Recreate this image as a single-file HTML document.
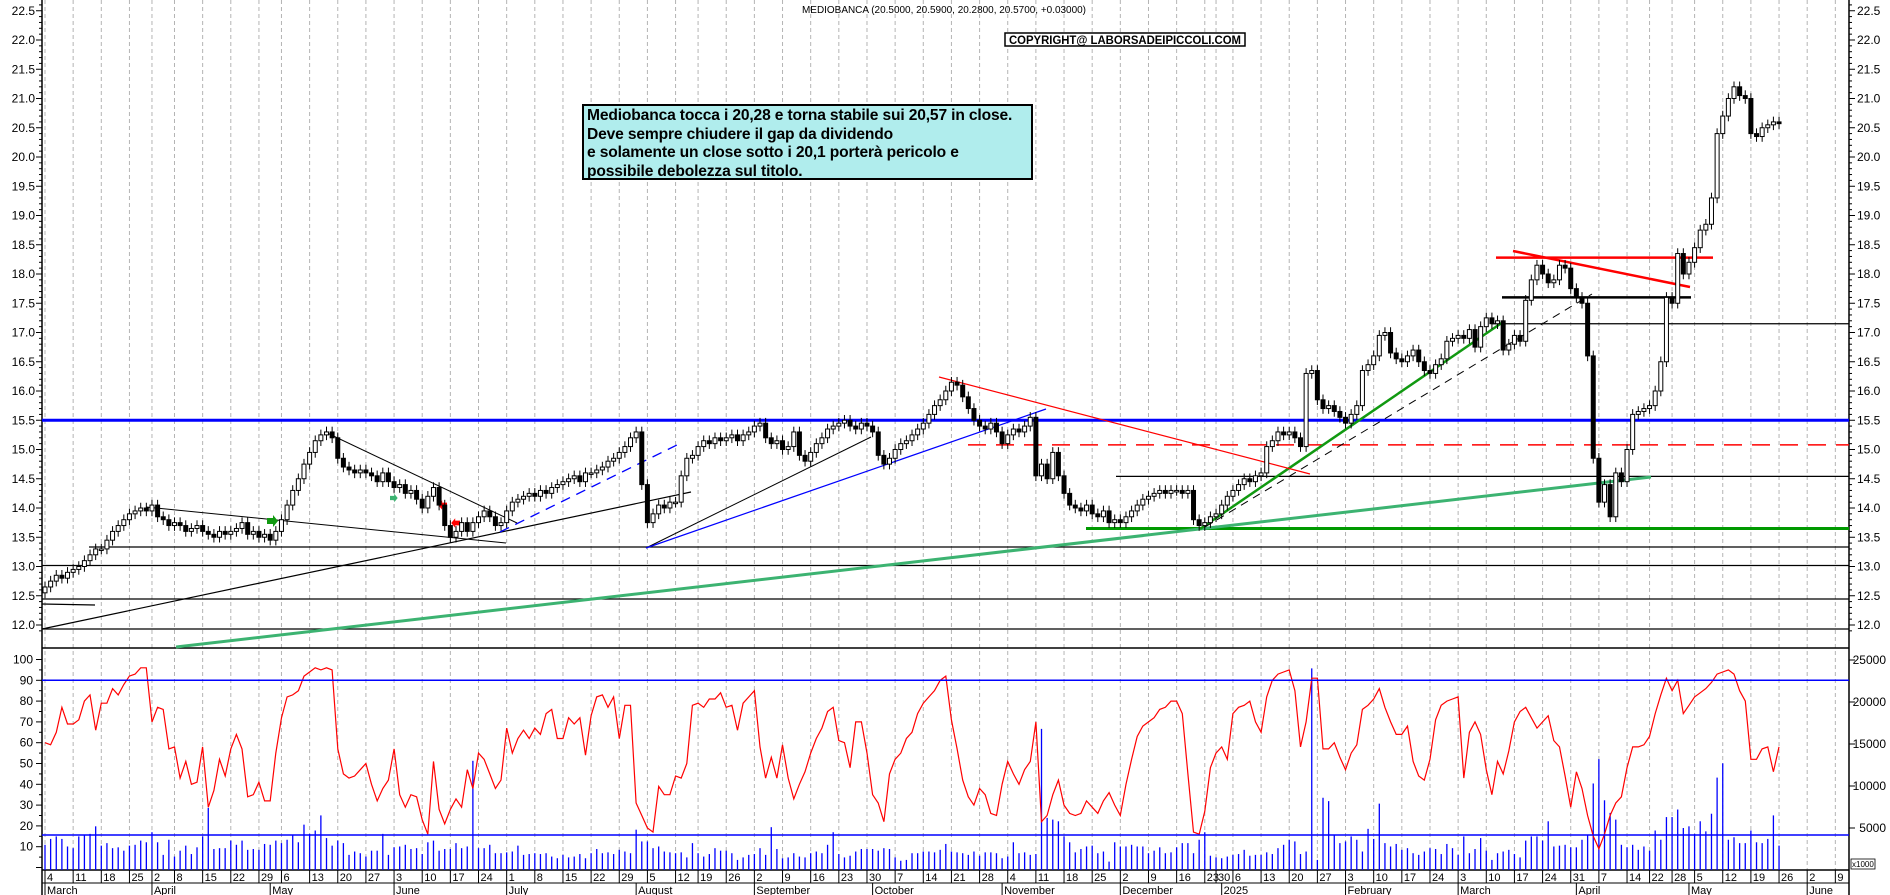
<!DOCTYPE html>
<html><head><meta charset="utf-8"><title>Mediobanca chart</title>
<style>
html,body{margin:0;padding:0;background:#fff;}
svg{display:block;font-family:"Liberation Sans",Arial,sans-serif;}
.note{position:absolute;left:582px;top:104px;width:444px;height:71px;background:#b0eded;border:2px solid #000;font:bold 15.6px "Liberation Sans",Arial,sans-serif;letter-spacing:-0.15px;line-height:18.5px;padding:1px 0 0 3px;box-sizing:content-box;white-space:nowrap;overflow:hidden;}
</style></head>
<body>
<div style="position:relative;width:1890px;height:895px;overflow:hidden;">
<svg id="chart" width="1890" height="895" viewBox="0 0 1890 895"></svg>
<div class="note">Mediobanca tocca i 20,28 e torna stabile sui 20,57 in close.<br>Deve sempre chiudere il gap da dividendo<br>e solamente un close sotto i 20,1 porterà pericolo e<br>possibile debolezza sul titolo.</div>
</div>
<script>
// ---- data ----
const closes=[12.65,12.75,12.85,12.8,12.9,12.95,13.0,13.1,13.2,13.3,13.3,13.45,13.6,13.7,13.8,13.9,13.95,14.0,13.95,
14.05,13.85,13.8,13.7,13.75,13.7,13.6,13.65,13.7,13.6,13.55,13.5,13.6,13.55,13.6,13.65,13.75,13.55,13.6,13.5,13.55,13.45,13.6,
13.8,14.05,14.3,14.5,14.75,14.95,15.15,15.25,15.3,15.2,14.85,14.7,14.65,14.6,14.65,14.6,14.55,14.45,14.6,14.45,
14.35,14.4,14.25,14.3,14.15,14.0,14.2,14.35,14.05,13.7,13.5,13.6,13.75,13.6,13.75,13.85,13.95,13.85,13.7,13.75,
13.95,14.1,14.15,14.2,14.25,14.2,14.3,14.25,14.35,14.4,14.45,14.5,14.55,14.45,14.6,14.6,14.65,14.7,14.8,14.85,
14.95,15.05,15.2,15.3,14.4,13.75,13.9,14.05,14.0,14.1,14.1,14.55,14.85,14.9,
15.05,15.15,15.1,15.2,15.15,15.2,15.25,15.15,15.25,15.3,15.4,15.45,15.2,15.1,15.15,15.0,15.05,15.3,14.9,14.8,
14.95,15.1,15.2,15.35,15.4,15.45,15.5,15.4,15.35,15.45,15.4,15.3,14.9,14.75,14.85,15.0,15.1,15.15,15.25,15.35,
15.45,15.6,15.75,15.85,16.0,16.15,16.1,15.9,15.7,15.5,15.4,15.35,15.45,15.3,15.1,15.25,15.35,15.3,15.4,15.55,
14.55,14.75,14.5,14.95,14.55,14.25,14.05,14.0,13.95,14.05,13.9,13.85,13.95,13.75,13.8,13.75,13.85,13.95,14.05,14.15,
14.2,14.25,14.3,14.25,14.3,14.3,14.25,14.3,13.8,13.7,13.75,13.85,13.9,14.05,14.2,
14.3,14.4,14.5,14.45,14.55,14.6,15.05,15.15,15.3,15.25,15.3,15.2,15.05,16.3,16.35,15.85,15.7,15.75,15.65,15.55,
15.45,15.6,15.75,16.35,16.45,16.6,16.95,17.0,16.65,16.55,16.5,16.6,16.7,16.5,16.35,16.3,16.45,16.55,16.85,16.9,
16.95,16.9,17.05,16.75,17.1,17.25,17.15,17.2,16.7,16.8,16.95,16.85,17.55,17.9,18.15,18.0,17.85,17.9,18.15,18.1,
17.75,17.6,17.5,16.6,14.85,14.1,14.4,13.85,14.6,14.45,15.0,15.6,15.65,15.7,15.75,16.0,16.5,17.6,17.5,18.35,18.0,18.2,
18.45,18.75,18.85,19.3,20.4,20.7,21.0,21.2,21.05,21.0,20.4,20.35,20.5,20.55,20.6,20.57];
const osc=[60,59,65,77,69,69,71,80,83,66,79,79,86,83,88,92,93,96,96,70,77,76,57,58,43,51,40,41,58,29,37,52,44,57,64,57,34,35,41,32,32,55,72,82,83,85,92,94,96,95,96,95,57,45,43,44,47,50,40,32,38,42,57,35,29,35,34,23,16,51,28,21,28,33,29,47,38,55,52,45,38,42,67,55,62,66,62,67,64,74,76,62,62,72,69,72,54,73,82,83,77,82,62,78,78,31,25,19,17,39,35,35,44,43,50,78,79,
77,81,81,84,77,78,66,79,82,85,58,43,53,43,59,43,33,40,46,55,62,67,75,77,61,60,48,70,70,55,35,31,22,45,52,55,62,65,74,79,82,85,90,92,71,57,42,34,30,38,35,26,25,40,51,45,40,47,51,70,22,25,35,42,30,26,25,26,32,29,26,32,36,30,25,40,52,63,68,70,72,76,77,80,80,74,45,17,16,27,48,55,58,52,74,77,
78,80,70,65,82,90,93,94,95,85,58,70,91,91,57,57,60,53,47,55,59,76,78,81,86,77,70,64,64,68,51,44,42,52,71,78,80,81,82,43,65,70,64,47,35,51,45,56,70,75,77,72,67,70,73,61,58,44,29,46,38,25,15,9,16,25,31,34,48,58,58,59,63,74,83,91,85,90,74,78,82,84,86,89,93,94,95,93,85,80,52,52,57,58,46,58];
const vols=[3.0,3.7,4.0,3.7,2.8,2.6,4.0,4.2,4.3,5.2,2.9,3.2,2.6,2.7,2.3,2.9,3.0,3.5,3.3,4.5,3.3,1.8,3.6,1.6,2.3,2.9,1.9,2.7,4.0,7.4,2.5,2.6,2.6,3.5,3.0,3.5,2.4,2.5,2.4,3.1,3.0,3.5,
3.2,3.6,4.2,3.3,5.4,4.3,4.7,6.5,3.8,2.9,3.5,3.2,1.8,2.2,2.0,1.6,2.3,2.3,4.3,1.8,2.7,2.8,3.0,2.5,2.6,1.9,3.3,3.5,2.3,2.5,2.5,3.2,2.6,2.8,13.0,2.6,2.6,3.0,2.0,2.0,2.1,2.2,
2.9,1.8,1.9,2.0,1.9,2.0,1.6,1.4,1.8,1.5,1.6,1.9,1.4,2.0,2.5,2.0,2.1,1.9,2.4,2.2,2.0,4.8,3.4,3.4,2.6,2.8,2.2,2.1,2.0,2.1,1.5,3.2,2.0,1.6,1.9,2.6,2.3,2.3,2.0,1.2,1.5,1.8,
1.9,2.6,1.8,5.1,2.5,1.4,1.5,2.0,1.6,1.5,2.0,2.2,2.0,3.0,4.5,1.9,1.5,1.7,2.2,2.5,2.5,2.5,2.3,2.6,2.5,1.5,1.1,1.2,2.0,2.0,2.2,2.2,2.1,2.4,3.1,2.2,2.1,2.0,1.8,2.2,1.7,2.1,
2.1,2.0,1.4,1.6,3.3,2.0,2.1,1.8,1.9,16.8,6.2,6.0,5.8,4.0,3.3,2.1,2.5,2.8,2.9,2.0,2.2,1.0,3.3,2.8,2.8,3.0,2.8,2.8,2.0,2.3,2.7,2.0,2.1,2.7,3.2,3.2,2.0,3.6,4.5,1.7,1.5,1.4,
1.6,1.8,1.9,2.4,1.7,1.8,1.8,2.1,1.9,2.6,3.0,3.6,3.4,1.9,2.2,24.0,1.2,8.6,8.2,4.2,3.2,3.4,4.0,3.6,2.2,4.9,3.7,7.9,3.2,2.8,3.1,2.4,2.6,2.0,1.8,2.2,2.6,2.5,1.9,3.1,2.6,1.8,
4.0,2.0,2.5,3.8,2.3,1.2,2.0,2.2,2.4,1.9,1.5,3.5,4.0,4.0,3.5,5.8,2.8,2.9,3.0,2.7,2.7,3.6,4.2,10.3,13.2,8.3,6.8,6.0,3.0,2.7,3.0,2.4,2.8,2.3,4.7,3.6,6.3,6.3,7.2,5.0,5.2,4.3,5.8,4.6,6.7,11.0,12.7,3.6,3.9,3.2,3.2,4.7,3.3,3.2,3.7,6.5,2.9];
const priceTicks=[12.0,12.5,13.0,13.5,14.0,14.5,15.0,15.5,16.0,16.5,17.0,17.5,18.0,18.5,19.0,19.5,20.0,20.5,21.0,21.5,22.0,22.5];
const oscTicks=[10,20,30,40,50,60,70,80,90,100];
const volTicks=[5000,10000,15000,20000,25000];
const monthNames=["January","February","March","April","May","June","July","August","September","October","November","December"];
const holidays=["2024-03-29","2024-04-01","2024-05-01","2024-08-15","2024-12-24","2024-12-25","2024-12-26","2024-12-31","2025-01-01","2025-04-18","2025-04-21","2025-05-01"];

// ---- scales ----
const X0=45, DX=5.63;
function xd(i){return X0+i*DX;}
function yp(p){return 40+(22-p)*58.5;}
function yo(v){return 867.5-v*2.08;}
function yv(k){return 870-k*8.4;}

const svg=document.getElementById('chart');
const NS='http://www.w3.org/2000/svg';
function mk(tag,attrs,parent){const e=document.createElementNS(NS,tag);for(const k in attrs)e.setAttribute(k,attrs[k]);(parent||svg).appendChild(e);return e;}

// trading days
const days=[];
{let d=new Date(Date.UTC(2024,2,4));const end=new Date(Date.UTC(2025,5,13));
 while(d<=end){const wd=d.getUTCDay();const s=d.toISOString().slice(0,10);
  if(wd!==0&&wd!==6&&holidays.indexOf(s)<0)days.push(new Date(d));d=new Date(d.getTime()+86400000);}}

// grid + axis labels
const gGrid=mk('g',{});


const gX=mk('g',{'font-size':'11','fill':'#000'});


let prevWeek=-1,prevMonth=-1;
days.forEach((d,i)=>{
  const x=xd(i); if(x>1846)return;
  const wk=Math.floor((d.getTime()/86400000+3)/7);
  if(wk!==prevWeek){prevWeek=wk;
    const gl=mk('line',{x1:x,y1:0,x2:x,y2:870,stroke:'#b4b4b4','stroke-dasharray':'4,3','stroke-width':1},gGrid);
    
    
    mk('line',{x1:x,y1:870,x2:x,y2:883,stroke:'#000','stroke-width':1},gX);
    const t=mk('text',{x:x+2,y:881},gX);t.textContent=d.getUTCDate();
    
    
  }
  const m=d.getUTCMonth();
  if(m!==prevMonth){prevMonth=m;
    mk('line',{x1:x,y1:883,x2:x,y2:895,stroke:'#000','stroke-width':1},gX);
    const t=mk('text',{x:x+2,y:894},gX);
    t.textContent=(m===0)?String(d.getUTCFullYear()):monthNames[m];
    
    
  }
});
mk('line',{x1:42,y1:870,x2:1849,y2:870,stroke:'#000','stroke-width':1.5},gX);
mk('line',{x1:42,y1:883,x2:1849,y2:883,stroke:'#000','stroke-width':1},gX);

// axes
const gA=mk('g',{'font-size':'12','fill':'#000'});


mk('line',{x1:42,y1:0,x2:42,y2:895,stroke:'#000','stroke-width':1.5},gA);
mk('line',{x1:1849,y1:0,x2:1849,y2:895,stroke:'#000','stroke-width':1.5},gA);
mk('line',{x1:42,y1:648,x2:1849,y2:648,stroke:'#000','stroke-width':1.5},gA);
for(let k=119;k<=226;k++){const p=k/10;const y=yp(p);if(y<0||y>646)continue;
  const big=(k%5===0);
  mk('line',{x1:42-(big?6:3),y1:y,x2:42,y2:y,stroke:'#000'},gA);
  mk('line',{x1:1849,y1:y,x2:1849+(big?6:3),y2:y,stroke:'#000'},gA);}
priceTicks.forEach(p=>{const y=yp(p);
  const a=mk('text',{x:35,y:y+4,'text-anchor':'end'},gA);a.textContent=p.toFixed(1);
  
  
  const b=mk('text',{x:1857,y:y+4},gA);b.textContent=p.toFixed(1);
  
  });
for(let v=0;v<=100;v+=5){const y=yo(v);if(y<652)continue;mk('line',{x1:42-(v%10===0?6:3),y1:y,x2:42,y2:y,stroke:'#000'},gA);}
oscTicks.forEach(v=>{const t=mk('text',{x:33,y:yo(v)+4,'text-anchor':'end'},gA);t.textContent=v;
  
  });
volTicks.forEach(v=>{const y=yv(v/1000);mk('line',{x1:1849,y1:y,x2:1855,y2:y,stroke:'#000'},gA);
  const t=mk('text',{x:1886,y:y+4,'text-anchor':'end'},gA);t.textContent=v;
  
  });
const xb=mk('rect',{x:1851,y:859,width:24,height:10,fill:'#fff',stroke:'#000','stroke-width':0.8},gA);


const xt=mk('text',{x:1852,y:867,'font-size':'8'},gA);xt.textContent='x1000';

// title & copyright
const tt=mk('text',{x:944,y:13,'text-anchor':'middle','font-size':'10.5','textLength':'284','lengthAdjust':'spacingAndGlyphs'});
tt.textContent='MEDIOBANCA (20.5000, 20.5900, 20.2800, 20.5700, +0.03000)';


const cr=mk('rect',{x:1005,y:33,width:240,height:13,fill:'#fff',stroke:'#000','stroke-width':1.5});


const ct=mk('text',{x:1125,y:44,'text-anchor':'middle','font-size':'11.5','font-weight':'bold','textLength':'232','lengthAdjust':'spacingAndGlyphs'});
ct.textContent='COPYRIGHT@ LABORSADEIPICCOLI.COM';

// overlay lines (price panel)
const gL=mk('g',{});


function L(x1,y1,x2,y2,c,w,dash,name){const e=mk('line',{x1,y1,x2,y2,stroke:c,'stroke-width':w},gL);if(dash)e.setAttribute('stroke-dasharray',dash);
  
  return e;}
L(42,yp(15.5),1849,yp(15.5),'#0000ff',3,null,'resistance-15-5');
L(968,yp(15.08),1849,yp(15.08),'#ff0000',1.5,'18,10','dividend-gap-line');
L(1492,yp(17.15),1849,yp(17.15),'#000',1.2,null,'support-17-15');
L(1502,yp(17.6),1691,yp(17.6),'#000',2.5,null,'level-17-6');
L(1496,yp(18.28),1713,yp(18.28),'#ff0000',2.5,null,'resistance-18-28');
L(1513,251,1690,287,'#ff0000',2.5,null,'red-down-trend');
L(1116,yp(14.54),1849,yp(14.54),'#000',1.2,null,'level-14-54');
L(1086,yp(13.65),1849,yp(13.65),'#009900',3,null,'support-13-65');
L(89,547,1849,547,'#000',1.2,null,'level-13-3');
L(42,565.5,1849,565.5,'#000',1.2,null,'level-13');
L(42,599,1849,599,'#000',1.2,null,'level-12-45');
L(42,629,1849,629,'#000',1.2,null,'level-11-9');
L(42,604,95,605,'#000',1.2,null,'short-level');
L(42,629,691,492,'#000',1.2,null,'long-uptrend-black');
L(176,647,1651,477,'#3cb371',3,null,'long-uptrend-green');
L(1200,529,1503,322,'#119911',2.5,null,'uptrend-2025');
L(1205,527,1592,294,'#000',1,'8,6','dashed-uptrend');
L(939,377,1310,474,'#ff0000',1.2,null,'red-downtrend-oct');
L(646,548,871,437,'#000',1,null,'black-uptrend-aug');
L(646,548,1046,409,'#0000ff',1.2,null,'blue-uptrend-aug');
L(500,532,681,443,'#0000ff',1.3,'10,7','blue-dashed-trend');
L(146,507,506,543,'#000',1,null,'triangle-upper-a');
L(325,432,517,523,'#000',1,null,'triangle-upper-b');

// arrows
function arrow(x,y,dir,c,s,name){const d=dir>0?`M${x},${y-s*0.3} h${s*0.6} v${-s*0.3} l${s*0.5},${s*0.6} l${-s*0.5},${s*0.6} v${-s*0.3} h${-s*0.6}z`:`M${x},${y-s*0.3} h${-s*0.6} v${-s*0.3} l${-s*0.5},${s*0.6} l${s*0.5},${s*0.6} v${-s*0.3} h${s*0.6}z`;
  const e=mk('path',{d,fill:c});
  
  }
arrow(267,521,1,'#119911',10,'green-arrow');
arrow(390,498,1,'#3cb371',7,'teal-arrow');
arrow(447,505,-1,'#ff0000',8,'red-arrow-1');
arrow(460,523,-1,'#ff0000',8,'red-arrow-2');

// candles
const gC=mk('g',{});


closes.forEach((c,i)=>{
  const o=i===0?c-0.1:closes[i-1];
  const x=xd(i);const top=Math.max(o,c),bot=Math.min(o,c);
  mk('line',{x1:x,y1:yp(top+0.09),x2:x,y2:yp(bot-0.09),stroke:'#000','stroke-width':1},gC);
  let h=yp(bot)-yp(top);if(h<1.5)h=1.5;
  const r=mk('rect',{x:x-2,y:yp(top),width:4,height:h,fill:c>=o?'#fff':'#000',stroke:'#000','stroke-width':1},gC);
  
  
});

// volume bars
const gV=mk('g',{});


vols.forEach((v,i)=>{const b=mk('line',{x1:xd(i),y1:870,x2:xd(i),y2:yv(v),stroke:'#0000ff','stroke-width':1.3},gV);
  
  });

// oscillator
const n=Math.min(osc.length,closes.length);
let pd='';for(let i=0;i<n;i++)pd+=(i?'L':'M')+xd(i).toFixed(1)+','+yo(osc[i]).toFixed(1);
const op=mk('path',{d:pd,fill:'none',stroke:'#ff0000','stroke-width':1.2});


const h90=mk('line',{x1:42,y1:yo(90),x2:1849,y2:yo(90),stroke:'#0000ff','stroke-width':1.5});


const h15=mk('line',{x1:42,y1:yo(15.6),x2:1849,y2:yo(15.6),stroke:'#0000ff','stroke-width':1.5});


</script>
</body></html>
